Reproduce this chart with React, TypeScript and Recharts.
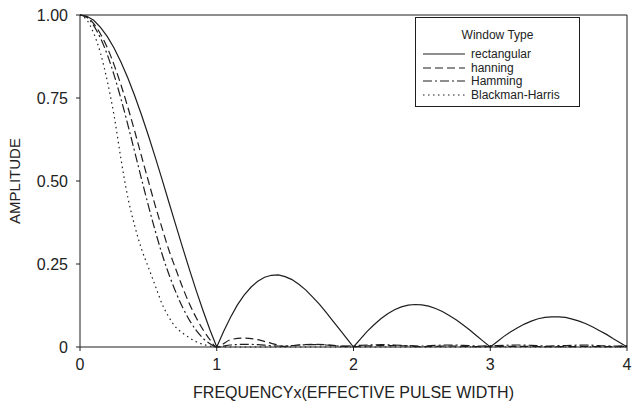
import React from 'react';
import { LineChart, Line, XAxis, YAxis, ReferenceLine, Legend } from 'recharts';

// Frequency sample points (in units of 1 / effective pulse width)
const rectFreq = [
  0, 0.05, 0.1, 0.15, 0.2, 0.25, 0.3, 0.35, 0.4, 0.45, 0.5, 0.55, 0.6, 0.65, 0.7, 0.75, 0.8, 0.85, 0.9, 0.95,
  1, 1.05, 1.1, 1.15, 1.2, 1.25, 1.3, 1.35, 1.4, 1.45, 1.5, 1.55, 1.6, 1.65, 1.7, 1.75, 1.8, 1.85, 1.9, 1.95,
  2, 2.05, 2.1, 2.15, 2.2, 2.25, 2.3, 2.35, 2.4, 2.45, 2.5, 2.55, 2.6, 2.65, 2.7, 2.75, 2.8, 2.85, 2.9, 2.95,
  3, 3.05, 3.1, 3.15, 3.2, 3.25, 3.3, 3.35, 3.4, 3.45, 3.5, 3.55, 3.6, 3.65, 3.7, 3.75, 3.8, 3.85, 3.9, 3.95,
  4,
];

const rectangular = [
  1, 0.996, 0.984, 0.963, 0.935, 0.9, 0.858, 0.81, 0.757, 0.699, 0.637, 0.572, 0.505, 0.436, 0.368, 0.3, 0.234, 0.17, 0.109, 0.052,
  0, 0.047, 0.089, 0.126, 0.156, 0.18, 0.198, 0.21, 0.216, 0.217, 0.212, 0.203, 0.189, 0.172, 0.151, 0.129, 0.104, 0.078, 0.052, 0.026,
  0, 0.024, 0.047, 0.067, 0.085, 0.1, 0.112, 0.121, 0.126, 0.128, 0.127, 0.123, 0.116, 0.107, 0.095, 0.082, 0.067, 0.051, 0.034, 0.017,
  0, 0.016, 0.032, 0.046, 0.058, 0.069, 0.078, 0.085, 0.089, 0.091, 0.091, 0.089, 0.084, 0.078, 0.07, 0.06, 0.049, 0.038, 0.025, 0.013,
  0,
];

const windowFreq = [
  0, 0.05, 0.1, 0.15, 0.2, 0.25, 0.3, 0.35, 0.4, 0.45, 0.5, 0.55, 0.6, 0.65, 0.7, 0.75, 0.8, 0.85, 0.9, 0.95,
  1, 1.1, 1.2, 1.3, 1.4, 1.5, 1.6, 1.7, 1.8, 1.9,
  2, 2.1, 2.2, 2.3, 2.4, 2.5, 2.6, 2.7, 2.8, 2.9,
  3, 3.1, 3.2, 3.3, 3.4, 3.5, 3.6, 3.7, 3.8, 3.9,
  4,
];

const hanning = [
  1, 0.994, 0.974, 0.943, 0.901, 0.849, 0.789, 0.722, 0.65, 0.574, 0.5, 0.426, 0.358, 0.292, 0.235, 0.18, 0.13, 0.088, 0.052, 0.022,
  0, 0.022, 0.027, 0.022, 0.011, 0.002, 0.006, 0.008, 0.007, 0.003,
  0.001, 0.003, 0.004, 0.004, 0.003, 0.001, 0.002, 0.003, 0.002, 0.001,
  0.001, 0.002, 0.002, 0.002, 0.001, 0.001, 0.001, 0.002, 0.001, 0.001,
  0.001,
];

const hamming = [
  1, 0.993, 0.968, 0.93, 0.88, 0.818, 0.747, 0.669, 0.588, 0.506, 0.426, 0.35, 0.28, 0.219, 0.166, 0.12, 0.081, 0.05, 0.026, 0.01,
  0, 0.006, 0.008, 0.007, 0.004, 0.003, 0.006, 0.007, 0.006, 0.003,
  0.004, 0.006, 0.007, 0.006, 0.004, 0.003, 0.005, 0.006, 0.005, 0.003,
  0.004, 0.005, 0.006, 0.005, 0.003, 0.004, 0.005, 0.006, 0.004, 0.003,
  0.004,
];

const blackmanHarris = [
  1, 0.985, 0.945, 0.885, 0.8, 0.695, 0.565, 0.45, 0.365, 0.295, 0.24, 0.185, 0.13, 0.09, 0.06, 0.042, 0.028, 0.016, 0.008, 0.003,
  0, 0, 0, 0, 0, 0, 0, 0, 0, 0,
  0, 0, 0, 0, 0, 0, 0, 0, 0, 0,
  0, 0, 0, 0, 0, 0, 0, 0, 0, 0,
  0,
];

const xTicks = [0, 1, 2, 3, 4];
const xTickLabels = ['0', '1', '2', '3', '4'];
const yTicks = [0, 0.25, 0.5, 0.75, 1];
const yTickLabels = ['0', '0.25', '0.50', '0.75', '1.00'];
const xTitle = 'FREQUENCYx(EFFECTIVE PULSE WIDTH)';
const yTitle = 'AMPLITUDE';
const legendTitle = 'Window Type';
const seriesNames = ['rectangular', 'hanning', 'Hamming', 'Blackman-Harris'];

const INK = '#1e1e1e';
const TEXT = '#222';
const FONT = '"Liberation Sans", Arial, Helvetica, sans-serif';

const toRows = (freq: number[], vals: number[]) => freq.map((f, i) => ({ f, v: vals[i] }));

const series = [
  { name: seriesNames[0], rows: toRows(rectFreq, rectangular), dash: undefined as string | undefined, curve: 'linear' as const },
  { name: seriesNames[1], rows: toRows(windowFreq, hanning), dash: '8 4', curve: 'monotone' as const },
  { name: seriesNames[2], rows: toRows(windowFreq, hamming), dash: '9 3 2 3', curve: 'monotone' as const },
  { name: seriesNames[3], rows: toRows(windowFreq, blackmanHarris), dash: '1.5 3.5', curve: 'monotone' as const },
];

const WindowLegend = () => (
  <div
    style={{
      width: 163,
      height: 88,
      border: `1px solid ${INK}`,
      background: '#fff',
      fontFamily: FONT,
      fontSize: 12,
      color: TEXT,
      boxSizing: 'content-box',
      position: 'relative',
    }}
  >
    <div style={{ position: 'absolute', left: 0, width: 163, top: 10, textAlign: 'center', lineHeight: '14px' }}>
      {legendTitle}
    </div>
    {series.map((s, i) => (
      <div
        key={s.name}
        style={{ position: 'absolute', left: 7, top: 29 + i * 13.5, height: 14, display: 'flex', alignItems: 'center' }}
      >
        <svg width={44} height={14} style={{ display: 'block' }}>
          <line x1={0} y1={7} x2={42} y2={7} stroke={INK} strokeWidth={1.2} strokeDasharray={s.dash} />
        </svg>
        <span style={{ marginLeft: 4, lineHeight: '14px', whiteSpace: 'nowrap' }}>{s.name}</span>
      </div>
    ))}
  </div>
);

export default function App() {
  return (
    <div style={{ position: 'absolute', left: 0, top: 0, width: 632, height: 408, background: '#fff' }}>
      <LineChart width={632} height={408} margin={{ top: 15, right: 5, bottom: 0, left: 0 }}>
        <XAxis
          dataKey="f"
          type="number"
          domain={[0, 4]}
          ticks={xTicks}
          tickFormatter={(v: number) => xTickLabels[xTicks.indexOf(v)]}
          allowDuplicatedCategory={false}
          height={61}
          tickSize={4}
          tickMargin={8}
          stroke={INK}
          tick={{ fill: TEXT, fontSize: 16, fontFamily: FONT }}
          label={{ value: xTitle, position: 'insideBottom', offset: 10, fill: TEXT, fontSize: 16, fontFamily: FONT }}
        />
        <YAxis
          type="number"
          domain={[0, 1]}
          ticks={yTicks}
          tickFormatter={(v: number) => yTickLabels[yTicks.indexOf(v)]}
          width={80}
          tickSize={4}
          tickMargin={8}
          stroke={INK}
          tick={{ fill: TEXT, fontSize: 16, fontFamily: FONT }}
          label={{
            value: yTitle,
            angle: -90,
            position: 'insideLeft',
            offset: 15,
            fill: TEXT,
            fontSize: 15,
            fontFamily: FONT,
            style: { textAnchor: 'middle' },
          }}
        />
        <ReferenceLine y={1} stroke={INK} strokeWidth={1} />
        <ReferenceLine x={4} stroke={INK} strokeWidth={1} />
        {series.map((s) => (
          <Line
            key={s.name}
            data={s.rows}
            dataKey="v"
            name={s.name}
            type={s.curve}
            stroke={INK}
            strokeWidth={1.2}
            strokeDasharray={s.dash}
            dot={false}
            activeDot={false}
            isAnimationActive={false}
          />
        ))}
        <Legend
          layout="horizontal"
          verticalAlign="middle"
          align="center"
          content={() => <WindowLegend />}
          wrapperStyle={{ position: 'absolute', top: 17, left: 415, width: 165, height: 90 }}
        />
      </LineChart>
    </div>
  );
}
